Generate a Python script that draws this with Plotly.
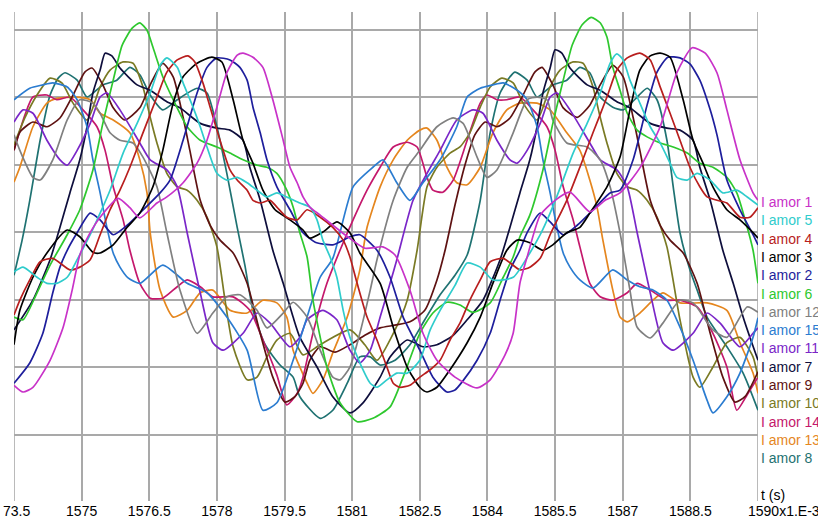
import plotly.graph_objects as go

# ---- data: time in ms, current (arbitrary units, grid every 100) ----
names = ["I amor 1", "I amor 5", "I amor 4", "I amor 3", "I amor 2", "I amor 6", "I amor 12",
         "I amor 15", "I amor 11", "I amor 7", "I amor 9", "I amor 10", "I amor 14", "I amor 13", "I amor 8"]

t1 = [1573.50,1573.70,1573.92,1574.30,1574.59,1574.79,1574.96,1575.19,1575.41,1575.81,1576.07,1576.29,1576.67,1576.89,1577.25,1577.56,1577.78,1578.00,1578.22,1578.45,1578.58,1578.80,1579.02,1579.24,1579.47,1579.62,1579.78,1579.91,1580.06,1580.29,1580.84,1581.28,1581.68,1581.95,1582.28,1582.57,1582.88,1583.28,1583.77,1584.06,1584.39,1584.57,1584.72,1584.88,1585.17,1585.50,1585.83,1586.27,1586.61,1586.94,1587.38,1587.83,1588.20,1588.54,1588.83,1589.09,1589.31,1589.60,1589.89,1590.00]
i1 = [-227,-237,-230,-190,-141,-86,-34,-1,22,50,36,21,43,52,73,102,136,185,236,262,265,259,244,196,136,96,73,52,37,25,-4,-24,-22,-34,-86,-150,-190,-215,-231,-219,-182,-150,-76,-37,25,47,59,30,47,58,95,156,236,273,265,236,181,107,58,47]

t2 = [1573.50,1573.85,1574.14,1574.36,1574.52,1574.68,1574.90,1575.19,1575.41,1575.70,1576.01,1576.29,1576.74,1576.96,1577.25,1577.56,1577.78,1578.00,1578.29,1578.51,1578.67,1578.80,1578.96,1579.11,1579.33,1579.62,1579.91,1580.18,1580.57,1580.95,1581.17,1581.55,1581.84,1582.13,1582.50,1582.79,1583.10,1583.28,1583.44,1583.77,1584.06,1584.28,1584.50,1584.72,1584.88,1585.17,1585.39,1585.68,1585.99,1586.27,1586.72,1586.94,1587.23,1587.54,1587.76,1588.00,1588.27,1588.49,1588.71,1588.94,1589.09,1589.31,1589.60,1589.89,1590.00]
i2 = [-224,-194,-150,-90,-52,-27,-1,28,18,-4,10,28,58,77,136,206,244,258,255,244,225,185,147,107,67,33,-1,-15,-19,-7,-4,-27,-67,-126,-175,-215,-237,-234,-222,-190,-150,-101,-56,-27,-1,28,15,-4,10,28,58,62,107,188,237,259,258,249,225,181,144,77,33,-4,-19]

t3 = [1573.50,1573.63,1573.92,1574.23,1574.68,1574.96,1575.25,1575.41,1575.70,1576.01,1576.29,1576.58,1576.80,1577.03,1577.25,1577.56,1577.89,1578.11,1578.36,1578.58,1578.80,1579.02,1579.29,1579.62,1579.91,1580.06,1580.35,1580.66,1580.95,1581.17,1581.62,1581.91,1582.22,1582.50,1582.66,1582.88,1583.17,1583.55,1583.84,1584.12,1584.43,1584.66,1584.94,1585.23,1585.45,1585.76,1586.05,1586.27,1586.65,1586.94,1587.16,1587.38,1587.61,1587.83,1588.05,1588.34,1588.56,1588.78,1589.00,1589.31,1589.60,1589.89,1590.00]
i3 = [-167,-116,-67,-31,3,-7,-30,-31,-19,7,28,67,121,191,230,250,259,252,196,136,102,62,33,18,3,-9,0,15,-1,-31,-76,-141,-200,-230,-237,-230,-204,-164,-126,-76,-27,-12,-16,-27,-19,-1,7,28,67,111,181,240,261,265,259,196,136,102,67,33,18,-1,-9]

t4 = [1573.50,1573.63,1573.85,1574.08,1574.36,1574.74,1574.96,1575.19,1575.41,1575.63,1575.85,1576.07,1576.36,1576.67,1576.89,1577.12,1577.36,1577.51,1577.69,1577.85,1578.00,1578.14,1578.29,1578.45,1578.67,1578.80,1578.96,1579.18,1579.33,1579.55,1579.78,1580.00,1580.29,1580.57,1580.80,1580.95,1581.11,1581.33,1581.55,1581.77,1581.91,1582.06,1582.28,1582.50,1582.73,1582.95,1583.17,1583.39,1583.61,1583.84,1584.06,1584.35,1584.72,1584.94,1585.17,1585.39,1585.76,1586.05,1586.34,1586.65,1586.87,1587.10,1587.38,1587.61,1587.83,1588.05,1588.27,1588.49,1588.71,1588.87,1589.09,1589.31,1589.60,1589.82,1590.00]
i4 = [-123,-101,-71,-44,-39,-56,-52,-41,-4,33,62,96,147,200,237,255,261,252,221,185,151,121,92,77,62,47,43,47,37,22,18,33,22,7,-12,-37,-76,-126,-160,-200,-224,-230,-227,-215,-204,-190,-160,-135,-101,-71,-44,-39,-56,-52,-39,-4,47,96,147,200,240,258,265,255,215,176,136,96,67,52,47,43,22,22,36]

t5 = [1573.50,1573.70,1574.01,1574.23,1574.45,1574.68,1574.90,1575.19,1575.41,1575.63,1575.92,1576.23,1576.52,1576.74,1576.89,1577.12,1577.25,1577.47,1577.63,1577.78,1578.00,1578.22,1578.45,1578.67,1578.89,1579.11,1579.33,1579.55,1579.84,1580.06,1580.22,1580.35,1580.51,1580.66,1580.80,1580.95,1581.17,1581.40,1581.55,1581.77,1581.99,1582.22,1582.50,1582.73,1582.95,1583.28,1583.55,1583.84,1584.12,1584.57,1584.94,1585.17,1585.39,1585.61,1585.90,1586.21,1586.50,1586.72,1586.87,1587.01,1587.16,1587.38,1587.61,1587.83,1588.05,1588.20,1588.43,1588.65,1588.94,1589.22,1589.53,1589.76,1590.00]
i5 = [-59,-52,-67,-76,-76,-67,-41,-4,28,62,117,161,206,247,258,244,221,185,156,126,87,77,81,73,62,52,58,52,43,37,18,-12,-37,-67,-116,-156,-194,-224,-230,-219,-209,-209,-190,-145,-116,-79,-46,-52,-71,-67,-31,-4,28,65,117,161,206,250,264,255,225,191,156,132,102,81,77,87,77,58,62,52,40]

t6 = [1573.50,1573.70,1574.01,1574.30,1574.68,1574.96,1575.25,1575.47,1575.70,1575.90,1576.12,1576.29,1576.45,1576.58,1576.80,1577.03,1577.34,1577.63,1578.00,1578.29,1578.58,1578.89,1579.11,1579.33,1579.55,1579.69,1579.84,1580.00,1580.13,1580.44,1580.73,1581.11,1581.46,1581.84,1582.13,1582.50,1582.79,1583.10,1583.39,1583.68,1584.06,1584.35,1584.57,1584.72,1584.94,1585.23,1585.45,1585.68,1585.88,1586.10,1586.30,1586.50,1586.65,1586.78,1586.94,1587.10,1587.32,1587.54,1587.83,1588.12,1588.43,1588.71,1589.00,1589.31,1589.53,1589.76,1589.89,1590.00]
i6 = [-126,-130,-90,-49,-4,33,92,161,225,277,302,310,299,274,230,196,156,136,126,117,107,99,96,87,62,37,-1,-37,-101,-200,-253,-281,-276,-259,-215,-150,-120,-104,-108,-119,-105,-67,-37,-7,25,92,161,225,277,307,318,310,289,244,210,176,151,141,132,126,117,102,96,81,58,7,-27,-76]

t7 = [1573.50,1573.92,1574.30,1574.52,1574.74,1574.96,1575.12,1575.25,1575.41,1575.52,1575.67,1575.85,1576.23,1576.52,1576.89,1577.18,1577.63,1578.00,1578.29,1578.58,1578.73,1578.96,1579.24,1579.47,1579.69,1579.84,1580.22,1580.57,1580.95,1581.24,1581.62,1581.84,1582.22,1582.57,1582.88,1583.24,1583.55,1583.90,1584.28,1584.50,1584.72,1584.94,1585.10,1585.23,1585.39,1585.50,1585.65,1585.83,1586.21,1586.50,1586.87,1587.16,1587.61,1587.98,1588.27,1588.56,1588.71,1588.94,1589.22,1589.45,1589.67,1589.82,1590.00]
i7 = [-145,-101,-41,7,58,107,156,206,240,265,261,243,218,210,193,184,161,154,151,136,96,47,-27,-76,-126,-156,-200,-244,-268,-253,-215,-185,-160,-170,-167,-153,-130,-101,-41,7,58,107,156,206,243,270,265,243,218,210,193,184,161,154,151,136,96,47,-27,-76,-126,-156,-190]

t8 = [1573.50,1573.68,1573.85,1574.08,1574.30,1574.48,1574.63,1574.90,1575.12,1575.47,1575.78,1576.07,1576.29,1576.52,1576.80,1577.12,1577.56,1577.78,1578.00,1578.22,1578.45,1578.62,1578.80,1579.07,1579.40,1579.69,1579.84,1580.29,1580.57,1580.89,1581.17,1581.40,1581.62,1581.95,1582.28,1582.61,1582.95,1583.28,1583.55,1583.84,1584.06,1584.28,1584.50,1584.61,1584.88,1585.10,1585.45,1585.76,1586.05,1586.27,1586.50,1586.78,1587.01,1587.32,1587.54,1587.76,1587.98,1588.12,1588.27,1588.49,1588.65,1588.87,1589.31,1589.67,1590.00]
i8 = [-64,-12,47,136,203,228,236,225,200,218,225,244,233,203,181,196,213,206,156,87,7,-49,-116,-167,-197,-215,-244,-276,-264,-224,-185,-185,-197,-190,-167,-130,-93,-64,-34,47,147,206,230,237,225,200,218,225,244,236,200,185,181,200,213,196,136,67,-1,-56,-86,-126,-170,-209,-264]

t9 = [1573.50,1573.63,1573.92,1574.23,1574.52,1574.81,1575.07,1575.23,1575.47,1575.70,1575.96,1576.29,1576.52,1576.80,1577.03,1577.25,1577.40,1577.63,1577.85,1578.07,1578.36,1578.67,1578.96,1579.24,1579.51,1579.73,1579.91,1580.06,1580.29,1580.62,1580.95,1581.28,1581.62,1581.95,1582.28,1582.61,1582.88,1583.06,1583.28,1583.50,1583.72,1583.95,1584.21,1584.50,1584.79,1585.05,1585.21,1585.45,1585.68,1585.99,1586.27,1586.50,1586.78,1587.01,1587.23,1587.38,1587.61,1587.83,1588.05,1588.34,1588.65,1588.94,1589.22,1589.49,1589.71,1590.00]
i9 = [121,148,163,156,169,203,237,243,218,184,166,184,218,250,230,170,121,47,10,-12,-31,-76,-150,-215,-252,-244,-224,-190,-170,-178,-167,-153,-142,-138,-133,-116,-71,-27,40,99,144,163,156,169,203,237,244,218,184,170,188,218,247,230,170,121,47,10,-12,-31,-76,-150,-215,-252,-244,-207]

t10 = [1573.50,1573.74,1574.01,1574.30,1574.56,1574.81,1575.12,1575.41,1575.63,1575.92,1576.14,1576.36,1576.52,1576.67,1576.89,1577.12,1577.34,1577.56,1577.78,1578.00,1578.18,1578.36,1578.67,1578.89,1579.11,1579.33,1579.62,1579.91,1580.29,1580.95,1581.28,1581.55,1581.95,1582.22,1582.44,1582.66,1582.88,1583.17,1583.39,1583.61,1583.84,1584.06,1584.32,1584.57,1584.79,1585.10,1585.39,1585.61,1585.90,1586.12,1586.34,1586.50,1586.65,1586.87,1587.10,1587.32,1587.54,1587.76,1587.98,1588.27,1588.56,1588.71,1589.00,1589.31,1589.60,1589.89,1590.00]
i10 = [129,169,203,228,221,191,166,215,240,252,250,215,170,132,87,67,62,47,22,-22,-101,-170,-219,-215,-185,-160,-150,-182,-167,-145,-167,-190,-145,-101,-27,67,96,117,126,147,185,215,228,221,191,166,215,240,252,250,215,170,132,87,67,62,47,22,-22,-130,-215,-230,-200,-164,-156,-185,-216]

t11 = [1573.50,1573.70,1573.92,1574.23,1574.52,1574.68,1574.90,1575.19,1575.41,1575.56,1575.85,1576.29,1576.52,1576.89,1577.12,1577.34,1577.63,1577.91,1578.14,1578.58,1578.89,1579.18,1579.62,1579.84,1580.00,1580.35,1580.66,1580.95,1581.17,1581.40,1581.62,1581.84,1581.99,1582.35,1582.66,1582.95,1583.32,1583.68,1583.90,1584.21,1584.50,1584.66,1584.88,1585.17,1585.39,1585.54,1585.83,1586.27,1586.50,1586.87,1587.10,1587.32,1587.61,1587.89,1588.12,1588.56,1588.87,1589.16,1589.60,1589.89,1590.00]
i11 = [163,181,176,136,107,99,121,161,200,206,181,132,107,92,67,-1,-90,-164,-175,-150,-120,-135,-170,-156,-130,-116,-130,-175,-194,-175,-126,-76,-41,47,87,121,166,181,176,136,107,102,121,161,200,206,181,132,107,92,67,-1,-90,-164,-175,-150,-120,-135,-170,-150,-142]

t12 = [1573.50,1573.63,1573.92,1574.08,1574.36,1574.68,1574.96,1575.25,1575.41,1575.63,1575.85,1576.14,1576.36,1576.67,1576.89,1577.18,1577.56,1577.91,1578.22,1578.51,1578.89,1579.11,1579.47,1579.69,1580.00,1580.29,1580.57,1580.73,1580.95,1581.17,1581.40,1581.55,1581.91,1582.22,1582.50,1582.88,1583.24,1583.46,1583.77,1583.99,1584.21,1584.57,1584.88,1585.10,1585.32,1585.45,1585.76,1586.21,1586.50,1586.72,1586.94,1587.16,1587.32,1587.61,1587.89,1588.27,1588.56,1589.00,1589.31,1589.76,1590.00]
i12 = [144,121,81,77,107,166,196,191,176,147,136,132,111,67,-1,-86,-150,-120,-96,-93,-116,-142,-120,-104,-126,-175,-215,-219,-200,-150,-86,-41,47,96,121,156,169,161,111,81,92,147,196,200,196,166,132,126,107,67,-1,-86,-141,-157,-135,-101,-105,-145,-156,-111,-119]

t13 = [1573.50,1573.63,1573.92,1574.23,1574.45,1574.90,1575.19,1575.41,1575.70,1576.07,1576.29,1576.45,1576.52,1576.74,1577.03,1577.34,1577.63,1577.91,1578.29,1578.67,1579.02,1579.33,1579.55,1579.69,1580.00,1580.13,1580.35,1580.57,1580.89,1581.17,1581.33,1581.62,1581.91,1582.22,1582.50,1582.66,1582.88,1583.10,1583.32,1583.55,1583.84,1584.12,1584.43,1584.72,1585.10,1585.39,1585.76,1586.05,1586.27,1586.43,1586.56,1586.78,1586.94,1587.10,1587.38,1587.67,1587.89,1588.27,1588.87,1589.31,1589.60,1589.89,1590.00]
i13 = [74,96,156,191,198,200,196,176,166,147,107,58,-1,-86,-126,-116,-90,-86,-116,-120,-101,-105,-126,-175,-224,-239,-219,-179,-126,-56,7,67,107,136,151,154,136,96,73,70,96,147,181,191,191,181,147,121,77,37,-12,-86,-126,-133,-120,-101,-90,-105,-105,-116,-164,-209,-239]

t14 = [1573.50,1573.74,1573.92,1574.23,1574.45,1574.74,1575.03,1575.34,1575.52,1575.70,1575.92,1576.07,1576.29,1576.52,1576.80,1577.12,1577.34,1577.63,1577.91,1578.36,1578.73,1579.02,1579.33,1579.55,1579.78,1579.91,1580.13,1580.44,1580.73,1581.02,1581.33,1581.62,1581.91,1582.22,1582.44,1582.66,1582.79,1583.01,1583.24,1583.55,1583.84,1583.99,1584.21,1584.43,1584.72,1585.01,1585.32,1585.50,1585.68,1585.90,1586.05,1586.27,1586.50,1586.78,1587.10,1587.32,1587.61,1587.98,1588.27,1588.65,1589.00,1589.31,1589.53,1589.76,1590.00]
i14 = [121,173,200,203,196,200,181,156,121,67,18,-27,-76,-98,-98,-81,-71,-81,-96,-96,-116,-160,-212,-256,-239,-215,-150,-76,-27,18,62,96,126,133,126,81,62,59,77,136,191,203,196,196,200,181,156,121,67,18,-22,-76,-96,-101,-90,-76,-86,-101,-101,-111,-150,-200,-264,-241,-215]

t15 = [1573.50,1573.85,1574.14,1574.36,1574.68,1574.90,1575.12,1575.25,1575.41,1575.56,1575.70,1575.85,1576.03,1576.29,1576.80,1577.34,1577.78,1578.22,1578.67,1579.02,1579.33,1579.69,1580.00,1580.29,1580.57,1581.02,1581.46,1581.68,1581.99,1582.28,1582.57,1582.95,1583.32,1583.55,1583.84,1584.12,1584.35,1584.66,1584.88,1585.10,1585.23,1585.39,1585.54,1585.68,1585.83,1586.05,1586.34,1586.78,1587.10,1587.38,1587.67,1587.98,1588.27,1588.56,1588.87,1589.00,1589.31,1589.60,1589.89,1590.00]
i15 = [196,213,218,221,215,196,156,107,58,7,-31,-52,-68,-76,-49,-76,-90,-126,-175,-264,-253,-190,-126,-67,-39,67,96,107,73,47,73,107,156,200,213,218,221,210,196,156,107,58,7,-31,-52,-71,-83,-56,-71,-81,-86,-101,-141,-190,-249,-268,-244,-209,-156,-127]

colors = ["#c832c8", "#2fcccc", "#b81e1e", "#000000", "#1e1e9c", "#2ec82e", "#808080",
          "#2b7cd0", "#7a26c8", "#0e0e3c", "#5e1212", "#7a7a24", "#c4186c", "#e5861e", "#1f7272"]

series = {
    "I amor 1": (t1, i1), "I amor 5": (t5, i5), "I amor 4": (t4, i4), "I amor 3": (t3, i3),
    "I amor 2": (t2, i2), "I amor 6": (t6, i6), "I amor 12": (t12, i12), "I amor 15": (t15, i15),
    "I amor 11": (t11, i11), "I amor 7": (t7, i7), "I amor 9": (t9, i9), "I amor 10": (t10, i10),
    "I amor 14": (t14, i14), "I amor 13": (t13, i13), "I amor 8": (t8, i8),
}

xticks = [1575, 1576.5, 1578, 1579.5, 1581, 1582.5, 1584, 1585.5, 1587, 1588.5]
xticktext = ["1575", "1576.5", "1578", "1579.5", "1581", "1582.5", "1584", "1585.5", "1587", "1588.5"]

FONT = "Liberation Sans, Arial, sans-serif"
W, H = 818, 522
ML, MR, MT, MB = 14, 60, 12, 21
plot_w = W - ML - MR
plot_h = H - MT - MB


def py_to_paper(py):
    return (H - MB - py) / plot_h


def px_to_paper(px):
    return (px - ML) / plot_w


fig = go.Figure()
for nm in reversed(names):
    t, v = series[nm]
    col = colors[names.index(nm)]
    fig.add_trace(go.Scatter(x=t, y=v, mode="lines", name=nm,
                             line=dict(color=col, width=1.7, shape="spline", smoothing=0.6),
                             showlegend=False, hoverinfo="skip"))

annotations = []
label_top_px = 202
label_step_px = 18.3
for k, nm in enumerate(names):
    annotations.append(dict(xref="paper", yref="paper", x=px_to_paper(759),
                            y=py_to_paper(label_top_px + k * label_step_px),
                            text=nm, showarrow=False, xanchor="left", yanchor="middle",
                            font=dict(family=FONT, size=14, color=colors[k])))
annotations.append(dict(xref="paper", yref="paper", x=px_to_paper(759), y=py_to_paper(495),
                        text="t (s)", showarrow=False, xanchor="left", yanchor="middle",
                        font=dict(family=FONT, size=14, color="#000000")))
annotations.append(dict(xref="paper", yref="paper", x=px_to_paper(1), y=py_to_paper(511),
                        text="73.5", showarrow=False, xanchor="left", yanchor="middle",
                        font=dict(family=FONT, size=14, color="#000000")))
annotations.append(dict(xref="paper", yref="paper", x=px_to_paper(746), y=py_to_paper(511),
                        text="1590x1.E-3", showarrow=False, xanchor="left", yanchor="middle",
                        font=dict(family=FONT, size=14, color="#000000")))

shapes = []
for xe in (1573.5, 1590):
    shapes.append(dict(type="line", xref="x", yref="paper", x0=xe, x1=xe, y0=0, y1=1,
                       line=dict(color="#a9a9a9", width=1.6), layer="below"))

fig.update_layout(
    width=W, height=H,
    margin=dict(l=ML, r=MR, t=MT, b=MB, pad=0),
    paper_bgcolor="white", plot_bgcolor="white",
    font=dict(family=FONT, size=14, color="black"),
    annotations=annotations, shapes=shapes,
    xaxis=dict(range=[1573.5, 1590], tickvals=xticks, ticktext=xticktext, automargin=False,
               showgrid=True, gridcolor="#a9a9a9", gridwidth=1.6, zeroline=False,
               showline=False, ticks="", tickfont=dict(family=FONT, size=14, color="black"),
               fixedrange=True),
    yaxis=dict(range=[-398.5, 326], tick0=0, dtick=100, showgrid=True, gridcolor="#a9a9a9",
               gridwidth=1.6, zeroline=False, showline=False, showticklabels=False, ticks="",
               automargin=False, fixedrange=True),
)

fig.write_html("out.html", config={"displayModeBar": False},
               post_script="document.body.style.margin='0';")
